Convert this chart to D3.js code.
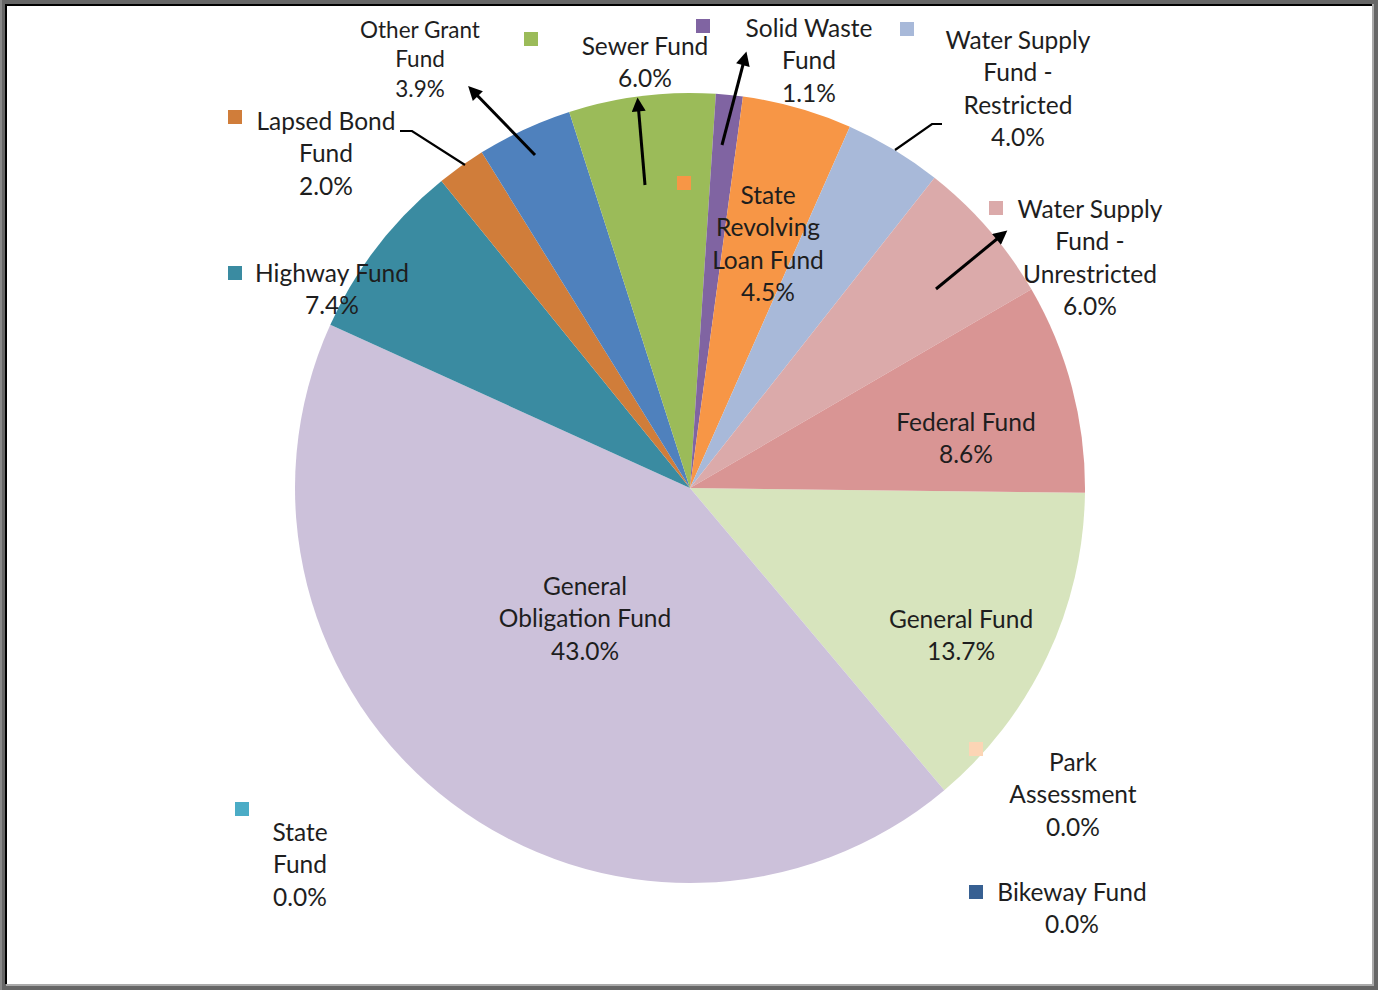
<!DOCTYPE html>
<html>
<head>
<meta charset="utf-8">
<script src="https://cdn.jsdelivr.net/npm/d3@7"></script>
<style>
  html, body { margin: 0; padding: 0; background: #666; }
  svg { display: block; }
  text { font-family: Lato, "Open Sans", sans-serif; fill: #1e1e1e; }
</style>
</head>
<body>
<svg id="chart" width="1378" height="990"></svg>
<script>
// Fund shares in percent, in slice order (clockwise, starting at General Fund)
const funds = [
  "General Fund", "Park Assessment", "Bikeway Fund", "General Obligation Fund",
  "State Fund", "Highway Fund", "Lapsed Bond Fund", "Other Grant Fund",
  "Sewer Fund", "Solid Waste Fund", "State Revolving Loan Fund",
  "Water Supply Fund - Restricted", "Water Supply Fund - Unrestricted", "Federal Fund"
];
const shares = [13.7, 0.0, 0.0, 43.0, 0.0, 7.4, 2.0, 3.9, 6.0, 1.1, 4.5, 4.0, 6.0, 8.6];
const colors = [
  "#d7e4bd", "#fcd5b5", "#376092", "#ccc1da", "#4bacc6", "#3a8ba1", "#d07d3a",
  "#4f81bd", "#9bbb59", "#8064a2", "#f79646", "#a8b9d9", "#dbaaaa", "#d99594"
];

// label layout (hand placed, like the original chart): text lines, centre x, first line y, key square
const labelLayout = {
  "General Fund":                    { lines: ["General Fund"], x: 961, y: 619 },
  "Park Assessment":                 { lines: ["Park", "Assessment"], x: 1073, y: 762, key: [969, 742] },
  "Bikeway Fund":                    { lines: ["Bikeway Fund"], x: 1072, y: 892, key: [969, 885] },
  "General Obligation Fund":         { lines: ["General", "Obligation Fund"], x: 585, y: 586 },
  "State Fund":                      { lines: ["State", "Fund"], x: 300, y: 832, key: [235, 802] },
  "Highway Fund":                    { lines: ["Highway Fund"], x: 332, y: 273, key: [228, 266] },
  "Lapsed Bond Fund":                { lines: ["Lapsed Bond", "Fund"], x: 326, y: 121, key: [228, 110] },
  "Other Grant Fund":                { lines: ["Other Grant", "Fund"], x: 420, y: 30, small: true },
  "Sewer Fund":                      { lines: ["Sewer Fund"], x: 645, y: 46, key: [524, 32] },
  "Solid Waste Fund":                { lines: ["Solid Waste", "Fund"], x: 809, y: 28, key: [696, 19] },
  "State Revolving Loan Fund":       { lines: ["State", "Revolving", "Loan Fund"], x: 768, y: 195, key: [677, 176] },
  "Water Supply Fund - Restricted":  { lines: ["Water Supply", "Fund -", "Restricted"], x: 1018, y: 40, key: [900, 22] },
  "Water Supply Fund - Unrestricted":{ lines: ["Water Supply", "Fund -", "Unrestricted"], x: 1090, y: 209, key: [989, 201] },
  "Federal Fund":                    { lines: ["Federal Fund"], x: 966, y: 422 }
};

// leader lines: [points], arrow at last point?
const leaders = [
  { pts: [[535, 155], [472, 90]], arrow: true },
  { pts: [[645, 185], [638, 103]], arrow: true },
  { pts: [[722, 145], [745, 57]], arrow: true },
  { pts: [[936, 289], [1003, 234]], arrow: true },
  { pts: [[465, 165], [412, 131], [400, 131]], arrow: false },
  { pts: [[895, 150], [932, 124], [942, 124]], arrow: false }
];

const W = 1378, H = 990;
const cx = 690, cy = 488, radius = 395;

const svg = d3.select("#chart");

// frame
svg.append("rect").attr("x", 0).attr("y", 0).attr("width", W).attr("height", H).attr("fill", "#666");
svg.append("rect").attr("x", 0).attr("y", 0).attr("width", 2).attr("height", H).attr("fill", "#888");
svg.append("rect").attr("x", 6).attr("y", 4).attr("width", 1368).attr("height", 982).attr("fill", "#aaa");
svg.append("rect").attr("x", 5).attr("y", 4).attr("width", 1367).attr("height", 980).attr("fill", "#000");
svg.append("rect").attr("x", 7).attr("y", 6).attr("width", 1365).attr("height", 978).attr("fill", "#fff");

const data = funds.map((name, i) => ({ name, value: shares[i], color: colors[i] }));

const start = 90.7 * Math.PI / 180;
const pie = d3.pie().sort(null).value(d => d.value).startAngle(start).endAngle(start + 2 * Math.PI);
const arc = d3.arc().innerRadius(0).outerRadius(radius);

const g = svg.append("g").attr("transform", `translate(${cx},${cy})`);
g.selectAll("path.slice")
  .data(pie(data))
  .join("path")
  .attr("class", "slice")
  .attr("d", arc)
  .attr("fill", d => d.data.color);

// arrowhead
svg.append("defs").append("marker")
  .attr("id", "arrow")
  .attr("viewBox", "0 -5 10 10")
  .attr("refX", 6)
  .attr("refY", 0)
  .attr("markerUnits", "userSpaceOnUse")
  .attr("markerWidth", 15)
  .attr("markerHeight", 14)
  .attr("orient", "auto")
  .append("path")
  .attr("d", "M0,-5 L10,0 L0,5 Z")
  .attr("fill", "#000");

const line = d3.line();
svg.selectAll("path.leader")
  .data(leaders)
  .join("path")
  .attr("class", "leader")
  .attr("d", d => line(d.pts))
  .attr("fill", "none")
  .attr("stroke", "#000")
  .attr("stroke-width", d => d.arrow ? 3 : 2.2)
  .attr("marker-end", d => d.arrow ? "url(#arrow)" : null);

// labels
const fmt = v => v.toFixed(1) + "%";
const lineH = 32.5;
data.forEach(d => {
  const L = labelLayout[d.name];
  const fs = L.small ? 22.5 : 24.5;
  const lh = L.small ? 29.5 : lineH;
  if (L.key) {
    svg.append("rect")
      .attr("x", L.key[0]).attr("y", L.key[1])
      .attr("width", 14).attr("height", 14)
      .attr("fill", d.color);
  }
  const t = svg.append("text")
    .attr("text-anchor", "middle")
    .attr("font-size", fs);
  L.lines.concat([fmt(d.value)]).forEach((s, i) => {
    t.append("tspan")
      .attr("x", L.x)
      .attr("y", L.y + i * lh)
      .attr("dy", "0.35em")
      .text(s);
  });
});
</script>
</body>
</html>
